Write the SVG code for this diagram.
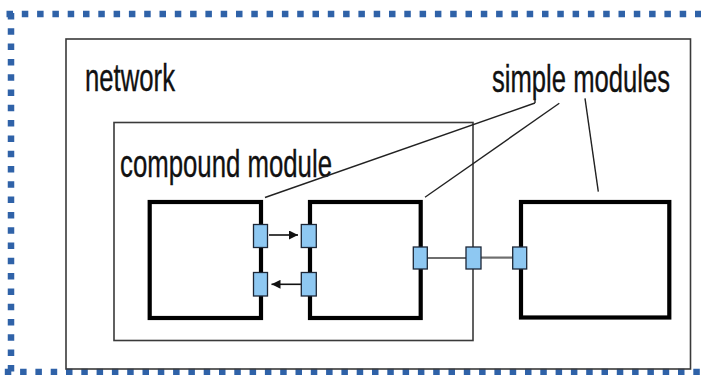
<svg xmlns="http://www.w3.org/2000/svg" width="701" height="375" viewBox="0 0 701 375">
  <style>
    .frame { fill: none; stroke: #2f62a8; stroke-width: 6.5; stroke-dasharray: 6.5 8.8; }
    .container { fill: none; stroke: #3a3a3a; stroke-width: 1.6; }
    .module { fill: #ffffff; stroke: #000000; stroke-width: 4.2; }
    .gate { fill: #8ec8f2; stroke: #1c2636; stroke-width: 1.3; }
    .label { font-family: "Liberation Sans", Arial, Helvetica, sans-serif; font-size: 25.8px; fill: #111111; stroke: #111111; stroke-width: 0.25; }
    .leader { fill: none; stroke: #222222; stroke-width: 1.4; }
    .link { fill: none; stroke: #6e6e6e; stroke-width: 2.2; }
    .msg { fill: none; stroke: #111111; stroke-width: 1.6; }
  </style>
  <defs>
    <marker id="arrow" viewBox="0 0 10 10" refX="10" refY="5" markerWidth="10" markerHeight="9" markerUnits="userSpaceOnUse" orient="auto">
      <path d="M0,0 L10,5 L0,10 z" fill="#111111"/>
    </marker>
  </defs>

  <rect width="701" height="375" fill="#ffffff"/>

  <!-- dotted outer frame -->
  <g id="frame">
    <line class="frame" x1="6.5" y1="14" x2="701" y2="14"/>
    <line class="frame" x1="11" y1="13" x2="11" y2="375"/>
    <line class="frame" x1="4.8" y1="372" x2="701" y2="372"/>
  </g>

  <!-- network container -->
  <g id="network">
    <rect class="container" x="66" y="39" width="624.5" height="330"/>
    <text class="label" transform="translate(85 91) scale(1 1.47)" x="0" y="0" textLength="90" lengthAdjust="spacingAndGlyphs">network</text>
  </g>

  <!-- compound module container -->
  <g id="compound-module">
    <rect class="container" x="114" y="122.5" width="359" height="218"/>
    <text class="label" transform="translate(120 177) scale(1 1.47)" x="0" y="0" textLength="212" lengthAdjust="spacingAndGlyphs">compound module</text>
  </g>

  <g id="simple-modules-label">
    <text class="label" transform="translate(492 91.5) scale(1 1.47)" x="0" y="0" textLength="178" lengthAdjust="spacingAndGlyphs">simple modules</text>
  </g>

  <!-- simple modules -->
  <g id="module-a">
    <rect class="module" x="149.7" y="202" width="111.3" height="116"/>
  </g>
  <g id="module-b">
    <rect class="module" x="310" y="202" width="110.7" height="116"/>
  </g>
  <g id="module-c">
    <rect class="module" x="521" y="202" width="148.3" height="115.5"/>
  </g>

  <!-- connectors -->
  <g id="connectors">
    <line class="leader" x1="535" y1="103" x2="265" y2="197.5"/>
    <line class="leader" x1="535" y1="103" x2="535" y2="98.5"/>
    <line class="leader" x1="559.3" y1="103.3" x2="425" y2="197.3"/>
    <line class="leader" x1="585" y1="98.3" x2="598.3" y2="191.7"/>
    <line class="link" x1="427" y1="258" x2="466" y2="258"/>
    <line class="link" x1="481" y1="257.6" x2="513" y2="257.6"/>
    <line class="msg" x1="269" y1="235" x2="298" y2="235" marker-end="url(#arrow)"/>
    <line class="msg" x1="301" y1="284.3" x2="271.5" y2="284.3" marker-end="url(#arrow)"/>
  </g>

  <!-- gates -->
  <g id="gates">
    <rect class="gate" x="253.5" y="224.5" width="14" height="23"/>
    <rect class="gate" x="253.5" y="272.5" width="14" height="23.5"/>
    <rect class="gate" x="301.3" y="224.5" width="15" height="23"/>
    <rect class="gate" x="301.3" y="272.5" width="15" height="23.5"/>
    <rect class="gate" x="413.3" y="247" width="14" height="22"/>
    <rect class="gate" x="466" y="247" width="15" height="22"/>
    <rect class="gate" x="512.7" y="247" width="14" height="22"/>
  </g>
</svg>
